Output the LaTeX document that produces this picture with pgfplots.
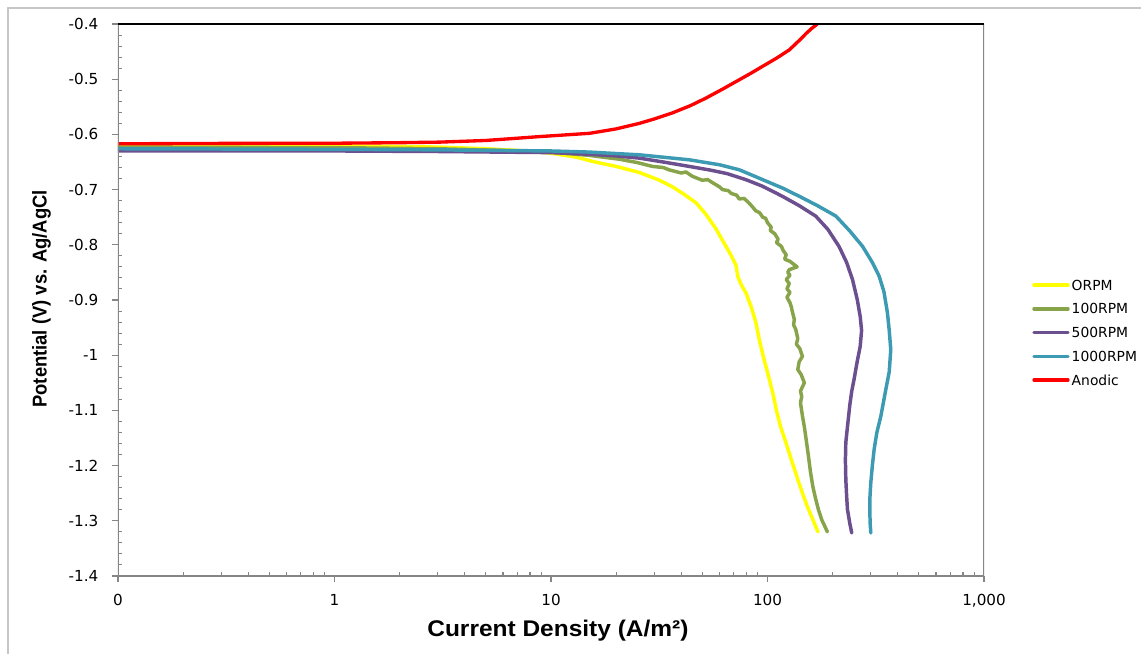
\documentclass[border=0pt]{standalone}
\usepackage{fontspec}
\setmainfont{Liberation Sans}
\newfontfamily\dv{DejaVu Sans}
\newfontfamily\xlabfont[FakeStretch=1.08]{Liberation Sans}
\newfontfamily\ylabfont[FakeStretch=0.92]{Liberation Sans}
\usepackage{pgfplots}
\pgfplotsset{compat=1.18}

\definecolor{cyel}{HTML}{FFFF00}
\definecolor{cgrn}{HTML}{88A44A}
\definecolor{cpur}{HTML}{6B4F8F}
\definecolor{ctea}{HTML}{3C9AB2}
\definecolor{cred}{HTML}{FF0000}
\definecolor{axgray}{HTML}{868686}

\begin{document}
\begin{tikzpicture}
\path[use as bounding box] (0pt,0pt) rectangle (855.75pt,490.5pt);
\draw[gray!45, line width=0.8pt] (6pt,0pt) -- (6pt,484.5pt) -- (855.75pt,484.5pt);
\begin{axis}[at={(88.5pt,58.5pt)}, anchor=south west,
  width=649.5pt, height=414pt, scale only axis,
  xmode=log, log basis x=10,
  xmin=0.1, xmax=1000, ymin=-1.4, ymax=-0.4,
  xtick={0.1,1,10,100,1000},
  xticklabels={0,1,10,100,{1,000}},
  minor xtick={0.2,0.3,0.4,0.5,0.6,0.7,0.8,0.9,2,3,4,5,6,7,8,9,20,30,40,50,60,70,80,90,200,300,400,500,600,700,800,900},
  ytick={-1.4,-1.3,-1.2,-1.1,-1,-0.9,-0.8,-0.7,-0.6,-0.5,-0.4},
  yticklabels={-1.4,-1.3,-1.2,-1.1,-1,-0.9,-0.8,-0.7,-0.6,-0.5,-0.4},
  minor y tick num=4,
  tick pos=left, tick align=inside,
  major tick length=-4.5pt, minor tick length=3pt,
  every tick/.style={axgray, line width=0.8pt},
  axis line style={draw=none},
  ticklabel style={font=\dv\fontsize{11.4}{13}\selectfont, inner sep=0pt, text height=8.3pt, text depth=0pt},
  xticklabel style={anchor=north, yshift=-13.9pt},
  yticklabel style={anchor=east, xshift=-14.6pt},
  xlabel={Current Density (A/m²)},
  ylabel={Potential (V) vs. Ag/AgCl},
  xlabel style={font=\xlabfont\bfseries\fontsize{17}{19}\selectfont, at={(axis description cs:0.508,-0.0996)}, anchor=center},
  ylabel style={font=\ylabfont\bfseries\fontsize{15}{18}\selectfont, at={(axis description cs:-0.0883,0.502)}, anchor=center},
  legend image code/.code={\draw[#1] (0pt,0pt) -- (25.5pt,0pt);},
  legend cell align=left,
  legend style={at={(axis description cs:1.0554,0.441)}, anchor=west, draw=none, fill=none,
    font=\dv\fontsize{10.4}{12}\selectfont, inner sep=0pt, row sep=7.2pt,
    nodes={inner sep=1.5pt, text height=7.6pt, text depth=0pt}},
  every axis plot/.append style={line width=2.6pt, line join=round, line cap=round},
  clip=true]

\addplot[cyel] coordinates {
(0.1,-0.620)(0.3,-0.620)(1,-0.621)(2,-0.622)(3,-0.623)(5,-0.626)(7,-0.629)(10,-0.634)
(13,-0.641)(16,-0.650)(20,-0.658)(25.6,-0.669)(31.7,-0.683)(36.4,-0.695)(41,-0.708)
(46.8,-0.724)(52,-0.745)(57.8,-0.771)(62,-0.792)(67,-0.815)(71.5,-0.837)(73,-0.858)
(76,-0.874)(79.5,-0.887)(84,-0.912)(88.4,-0.941)(92,-0.975)(96,-1.005)(102,-1.044)
(106,-1.070)(110,-1.100)(115,-1.130)(122,-1.160)(130,-1.194)(138,-1.225)(145,-1.250)
(152,-1.272)(162,-1.298)(171,-1.320)};
\addlegendentry{ORPM}

\addplot[cgrn] coordinates {
(0.1,-0.623)(1,-0.624)(3,-0.626)(6,-0.629)(10,-0.632)(15,-0.638)(20.7,-0.645)(25,-0.651)
(29.4,-0.658)(33,-0.660)(35,-0.664)(40,-0.670)(42,-0.668)(45,-0.676)(50,-0.683)(53,-0.682)
(56,-0.688)(60,-0.695)(62,-0.700)(66,-0.702)(68,-0.707)(72,-0.710)(74,-0.717)(78,-0.716)
(82,-0.724)(86,-0.733)(88,-0.738)(92,-0.742)(95,-0.750)(98,-0.752)(100,-0.760)(104,-0.768)
(103,-0.774)(108,-0.780)(112,-0.790)(110,-0.796)(116,-0.803)(118,-0.810)(122,-0.818)
(120,-0.826)(127,-0.830)(137,-0.840)(126,-0.845)(124,-0.850)(127,-0.855)(122,-0.863)
(126,-0.870)(123,-0.880)(127,-0.886)(123,-0.895)(127,-0.905)(129,-0.913)(130,-0.920)
(133,-0.935)(132,-0.945)(135,-0.953)(138,-0.970)(136,-0.980)(141,-0.988)(145,-1.002)
(140,-1.012)(138,-1.026)(143,-1.035)(148,-1.050)(142,-1.065)(144,-1.075)(142,-1.086)
(145,-1.110)(148,-1.130)(150,-1.146)(153,-1.170)(156,-1.195)(158,-1.212)(162,-1.238)
(167,-1.261)(172,-1.280)(178,-1.298)(184,-1.310)(189,-1.320)};
\addlegendentry{100RPM}

\addplot[cpur] coordinates {
(0.1,-0.630)(1,-0.630)(3,-0.631)(10,-0.633)(15,-0.636)(20,-0.639)(25.6,-0.643)(33,-0.650)
(43.5,-0.658)(55,-0.665)(65,-0.671)(79.5,-0.682)(95,-0.694)(117,-0.712)(140,-0.729)
(167,-0.748)(190,-0.772)(214,-0.803)(232,-0.832)(247,-0.863)(260,-0.900)(268,-0.930)
(272,-0.955)(268,-0.984)(260,-1.010)(251,-1.044)(245,-1.065)(240,-1.090)(234,-1.130)
(230,-1.158)(229,-1.190)(230,-1.225)(232,-1.255)(234,-1.279)(240,-1.305)(245,-1.322)};
\addlegendentry{500RPM}

\addplot[ctea] coordinates {
(0.1,-0.626)(1,-0.627)(3,-0.628)(10,-0.630)(15,-0.632)(25.6,-0.637)(43.5,-0.646)(60,-0.655)
(74,-0.664)(95,-0.682)(117,-0.697)(140,-0.712)(170,-0.729)(207,-0.748)(240,-0.775)
(275,-0.803)(305,-0.832)(328,-0.857)(345,-0.885)(358,-0.923)(365,-0.955)(371,-0.990)
(365,-1.030)(352,-1.062)(334,-1.110)(320,-1.140)(311,-1.170)(305,-1.200)(300,-1.231)
(297,-1.260)(297,-1.285)(298,-1.305)(300,-1.322)};
\addlegendentry{1000RPM}

\addplot[cred, line width=2.5pt] coordinates {
(0.1,-0.617)(0.5,-0.616)(1,-0.616)(2,-0.615)(3.06,-0.614)(5,-0.611)(8.85,-0.604)(15.1,-0.598)
(20,-0.590)(25.6,-0.580)(30,-0.572)(36.4,-0.561)(44,-0.548)(52.1,-0.534)(62,-0.518)
(74.1,-0.501)(84,-0.489)(94.6,-0.477)(110,-0.462)(126,-0.447)(140,-0.430)(151,-0.417)
(160,-0.408)(170,-0.400)};
\addlegendentry{Anodic}

\draw[axgray, line width=1.5pt] (rel axis cs:0,1) -- (rel axis cs:0,0) -- (rel axis cs:1,0) -- (rel axis cs:1,1);
\draw[black, line width=0.8pt] (rel axis cs:0,1) -- (rel axis cs:1,1);
\end{axis}
\end{tikzpicture}
\end{document}
